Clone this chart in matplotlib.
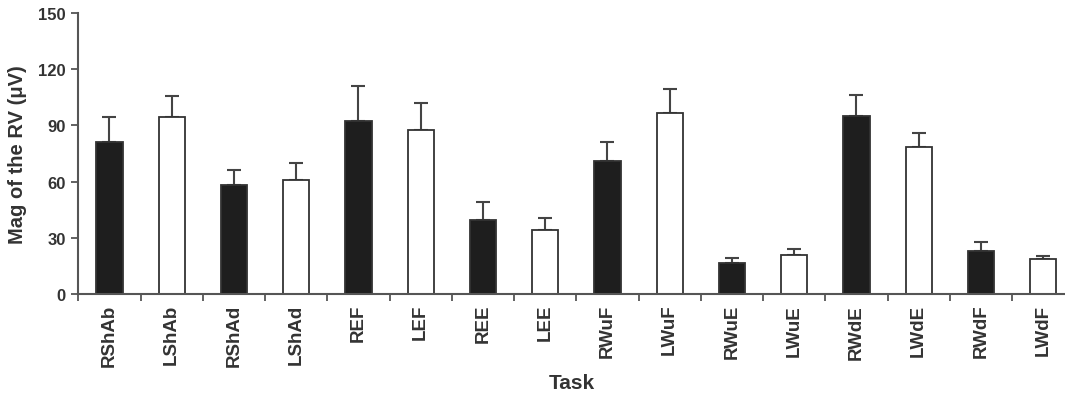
import numpy as np
import matplotlib.pyplot as plt

plt.rcParams['font.family'] = ['Liberation Sans', 'DejaVu Sans']

tasks = ['RShAb', 'LShAb', 'RShAd', 'LShAd', 'REF', 'LEF', 'REE', 'LEE',
         'RWuF', 'LWuF', 'RWuE', 'LWuE', 'RWdE', 'LWdE', 'RWdF', 'LWdF']
means = [81.4, 94.6, 58.1, 61.1, 92.5, 87.5, 39.6, 34.2,
         71.1, 96.6, 16.4, 20.8, 94.8, 78.4, 22.8, 18.5]
errs = [13.2, 11.1, 8.2, 9.1, 18.7, 14.3, 9.4, 6.3,
        10.3, 12.8, 2.8, 3.1, 11.6, 7.7, 4.8, 1.6]
y_ticks = [0, 30, 60, 90, 120, 150]

axis_col = '#555555'
text_col = '#333333'

fig = plt.figure(figsize=(10.65, 4.02), dpi=100)
ax = fig.add_axes([0.073, 0.266, 0.927, 0.699])

x = np.arange(len(tasks))
colors = ['#1e1e1e' if i % 2 == 0 else 'white' for i in range(len(tasks))]
ax.bar(x, means, width=0.42, color=colors, edgecolor='#333333', linewidth=1.3, zorder=2)
ax.errorbar(x, means, yerr=[np.zeros(len(errs)), errs], fmt='none',
            ecolor='#444444', elinewidth=1.5, capsize=5, capthick=1.5, zorder=1)

ax.set_xlim(-0.51, 15.35)
ax.set_ylim(0, 150)
ax.set_yticks(y_ticks)
ax.set_xticks(x)
ax.set_xticklabels(tasks, rotation=90, fontweight='bold', color=text_col, fontsize=13.5)
ax.set_xticks(np.arange(-0.5, 15.5, 1.0), minor=True)
ax.tick_params(axis='x', which='major', length=0, pad=7)
ax.tick_params(axis='x', which='minor', length=5, width=1.3, color=axis_col, direction='out')
ax.tick_params(axis='y', length=5, width=1.3, color=axis_col, labelsize=12, labelcolor=text_col)
for lab in ax.get_yticklabels():
    lab.set_fontweight('bold')

for s in ['top', 'right']:
    ax.spines[s].set_visible(False)
for s in ['left', 'bottom']:
    ax.spines[s].set_color(axis_col)
    ax.spines[s].set_linewidth(1.5)

ax.set_ylabel('Mag of the RV (μV)', fontweight='bold', fontsize=14.5, color=text_col, labelpad=8)
ax.set_xlabel('Task', fontweight='bold', fontsize=15, color=text_col, labelpad=5)

fig.savefig('out.png', dpi=100)
